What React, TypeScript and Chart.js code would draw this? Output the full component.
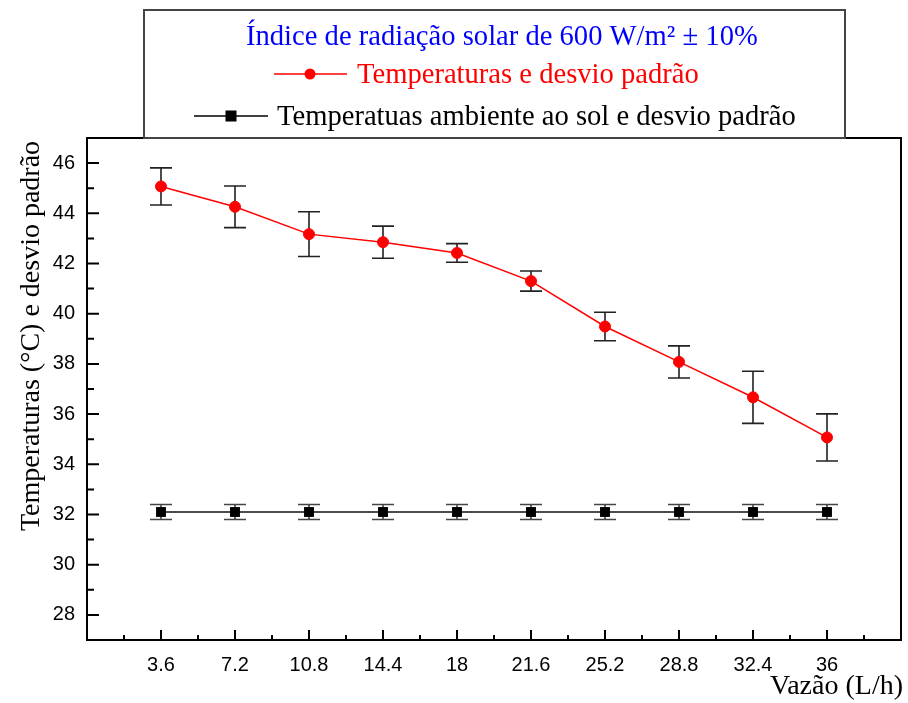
import React, { useEffect, useRef } from "react";
import { Chart, registerables } from "chart.js";

Chart.register(...registerables);

// ---- data ----
const xValues = [3.6, 7.2, 10.8, 14.4, 18, 21.6, 25.2, 28.8, 32.4, 36];
const xTickLabels = ["3.6", "7.2", "10.8", "14.4", "18", "21.6", "25.2", "28.8", "32.4", "36"];
const tempValues = [45.07, 44.26, 43.17, 42.85, 42.42, 41.3, 39.49, 38.08, 36.67, 35.07];
const tempErr = [0.74, 0.83, 0.89, 0.64, 0.37, 0.4, 0.57, 0.64, 1.04, 0.94];
const ambientValues = [32.1, 32.1, 32.1, 32.1, 32.1, 32.1, 32.1, 32.1, 32.1, 32.1];
const ambientErr = [0.3, 0.3, 0.3, 0.3, 0.3, 0.3, 0.3, 0.3, 0.3, 0.3];
const yTickValues = [28, 30, 32, 34, 36, 38, 40, 42, 44, 46];
const yTickLabels = ["28", "30", "32", "34", "36", "38", "40", "42", "44", "46"];

const titleLine = "Índice de radiação solar de 600 W/m² ± 10%";
const tempLabel = "Temperaturas e desvio padrão";
const ambientLabel = "Temperatuas ambiente ao sol e desvio padrão";
const yTitle = "Temperaturas (°C) e desvio padrão";
const xTitle = "Vazão (L/h)";

const SERIF = '"Liberation Serif", "Times New Roman", serif';
const SANS = '"Liberation Sans", Arial, sans-serif';

const errorsByDataset: number[][] = [tempErr, ambientErr];
const errColors = ["#222222", "#444444"];

const errorBarPlugin = {
  id: "errorBars",
  beforeDatasetsDraw(chart: any) {
    const ctx = chart.ctx;
    const yScale = chart.scales.y;
    chart.data.datasets.forEach((ds: any, di: number) => {
      const errs = errorsByDataset[di];
      const meta = chart.getDatasetMeta(di);
      ctx.save();
      ctx.strokeStyle = errColors[di];
      ctx.lineWidth = 1.6;
      meta.data.forEach((pt: any, i: number) => {
        const v = ds.data[i].y;
        const e = errs[i];
        const x = pt.x;
        const yTop = yScale.getPixelForValue(v + e);
        const yBot = yScale.getPixelForValue(v - e);
        ctx.beginPath();
        ctx.moveTo(x, yTop);
        ctx.lineTo(x, yBot);
        ctx.moveTo(x - 11, yTop);
        ctx.lineTo(x + 11, yTop);
        ctx.moveTo(x - 11, yBot);
        ctx.lineTo(x + 11, yBot);
        ctx.stroke();
      });
      ctx.restore();
    });
  },
};

const framePlugin = {
  id: "frame",
  afterDraw(chart: any) {
    const ctx = chart.ctx;
    const a = chart.chartArea;
    const xs = chart.scales.x;
    const ys = chart.scales.y;
    ctx.save();
    ctx.strokeStyle = "#000";
    ctx.lineWidth = 2;
    ctx.strokeRect(a.left, a.top, a.right - a.left, a.bottom - a.top);
    ctx.beginPath();
    const xStep = xValues[1] - xValues[0];
    xs.ticks.forEach((t: any) => {
      const px = xs.getPixelForValue(t.value);
      ctx.moveTo(px, a.bottom);
      ctx.lineTo(px, a.bottom - 10);
      const m = xs.getPixelForValue(t.value - xStep / 2);
      ctx.moveTo(m, a.bottom);
      ctx.lineTo(m, a.bottom - 5);
    });
    const lastX = xs.ticks[xs.ticks.length - 1].value + xStep / 2;
    if (lastX < xs.max) {
      const m = xs.getPixelForValue(lastX);
      ctx.moveTo(m, a.bottom);
      ctx.lineTo(m, a.bottom - 5);
    }
    const yStep = yTickValues[1] - yTickValues[0];
    ys.ticks.forEach((t: any) => {
      const py = ys.getPixelForValue(t.value);
      ctx.moveTo(a.left, py);
      ctx.lineTo(a.left + 12, py);
      const mv = t.value + yStep / 2;
      if (mv < ys.max) {
        const m = ys.getPixelForValue(mv);
        ctx.moveTo(a.left, m);
        ctx.lineTo(a.left + 7, m);
      }
    });
    const firstMinor = ys.ticks[0].value - yStep / 2;
    if (firstMinor > ys.min) {
      const m = ys.getPixelForValue(firstMinor);
      ctx.moveTo(a.left, m);
      ctx.lineTo(a.left + 7, m);
    }
    ctx.stroke();
    ctx.restore();
  },
};

const legendBoxPlugin = {
  id: "legendBox",
  afterDraw(chart: any) {
    const ctx = chart.ctx;
    ctx.save();
    ctx.strokeStyle = "#444";
    ctx.lineWidth = 2;
    ctx.strokeRect(144, 10, 701, 128);

    ctx.font = "28.6px " + SERIF;
    ctx.textAlign = "left";
    ctx.textBaseline = "alphabetic";
    ctx.fillStyle = "#0000ff";
    ctx.fillText(titleLine, 246, 45);

    ctx.strokeStyle = "#ff0000";
    ctx.lineWidth = 1.5;
    ctx.beginPath();
    ctx.moveTo(274, 74);
    ctx.lineTo(347, 74);
    ctx.stroke();
    ctx.fillStyle = "#ff0000";
    ctx.beginPath();
    ctx.arc(310, 74, 5.5, 0, Math.PI * 2);
    ctx.fill();
    ctx.fillText(tempLabel, 357, 83);

    ctx.strokeStyle = "#000";
    ctx.beginPath();
    ctx.moveTo(194, 116);
    ctx.lineTo(268, 116);
    ctx.stroke();
    ctx.fillStyle = "#000";
    ctx.fillRect(231 - 5.5, 116 - 5.5, 11, 11);
    ctx.fillText(ambientLabel, 277, 125);
    ctx.restore();
  },
};

const axisTitlePlugin = {
  id: "axisTitles",
  afterDraw(chart: any) {
    const ctx = chart.ctx;
    ctx.save();
    ctx.fillStyle = "#000";
    ctx.font = "28px " + SERIF;
    ctx.textBaseline = "alphabetic";
    ctx.textAlign = "right";
    ctx.fillText(xTitle, 903, 694);
    ctx.translate(39, 336);
    ctx.rotate(-Math.PI / 2);
    ctx.textAlign = "center";
    ctx.fillText(yTitle, 0, 0);
    ctx.restore();
  },
};

export default function App() {
  const canvasRef = useRef<HTMLCanvasElement | null>(null);

  useEffect(() => {
    const canvas = canvasRef.current;
    if (!canvas) return;
    const chart = new Chart(canvas, {
      type: "line",
      data: {
        datasets: [
          {
            label: tempLabel,
            data: xValues.map((x, i) => ({ x, y: tempValues[i] })),
            borderColor: "#ff0000",
            borderWidth: 1.5,
            backgroundColor: "#ff0000",
            pointStyle: "circle",
            pointRadius: 5.5,
            pointBackgroundColor: "#ff0000",
            pointBorderColor: "#ff0000",
            pointBorderWidth: 1,
            tension: 0,
            fill: false,
          },
          {
            label: ambientLabel,
            data: xValues.map((x, i) => ({ x, y: ambientValues[i] })),
            borderColor: "#111111",
            borderWidth: 1.5,
            backgroundColor: "#000",
            pointStyle: "rect",
            pointRadius: 7,
            pointBackgroundColor: "#000",
            pointBorderColor: "#000",
            pointBorderWidth: 0,
            tension: 0,
            fill: false,
          },
        ],
      },
      options: {
        animation: false,
        responsive: false,
        maintainAspectRatio: false,
        devicePixelRatio: 1,
        layout: { padding: { top: 138, right: 4, left: 0, bottom: 0 } },
        plugins: {
          legend: { display: false },
          title: { display: false },
          tooltip: { enabled: false },
        },
        scales: {
          x: {
            type: "linear",
            min: 0,
            max: 39.6,
            grid: { display: false, drawTicks: false },
            border: { display: false },
            afterBuildTicks: (s: any) => {
              s.ticks = xValues.map((v) => ({ value: v }));
            },
            afterFit: (s: any) => {
              s.height = 63;
            },
            ticks: {
              autoSkip: false,
              maxRotation: 0,
              minRotation: 0,
              padding: 13,
              color: "#000",
              font: { family: SANS, size: 20 },
              callback: (_v: any, i: number) => xTickLabels[i],
            },
          },
          y: {
            type: "linear",
            min: 27,
            max: 47,
            grid: { display: false, drawTicks: false },
            border: { display: false },
            afterBuildTicks: (s: any) => {
              s.ticks = yTickValues.map((v) => ({ value: v }));
            },
            afterFit: (s: any) => {
              s.width = 87;
            },
            ticks: {
              padding: 12,
              color: "#000",
              font: { family: SANS, size: 20 },
              callback: (_v: any, i: number) => yTickLabels[i],
            },
          },
        },
      },
      plugins: [errorBarPlugin, framePlugin, legendBoxPlugin, axisTitlePlugin],
    } as any);
    return () => chart.destroy();
  }, []);

  return (
    <div
      style={{
        position: "fixed",
        left: 0,
        top: 0,
        width: 908,
        height: 703,
        background: "#fff",
      }}
    >
      <canvas ref={canvasRef} width={908} height={703} style={{ display: "block" }} />
    </div>
  );
}
